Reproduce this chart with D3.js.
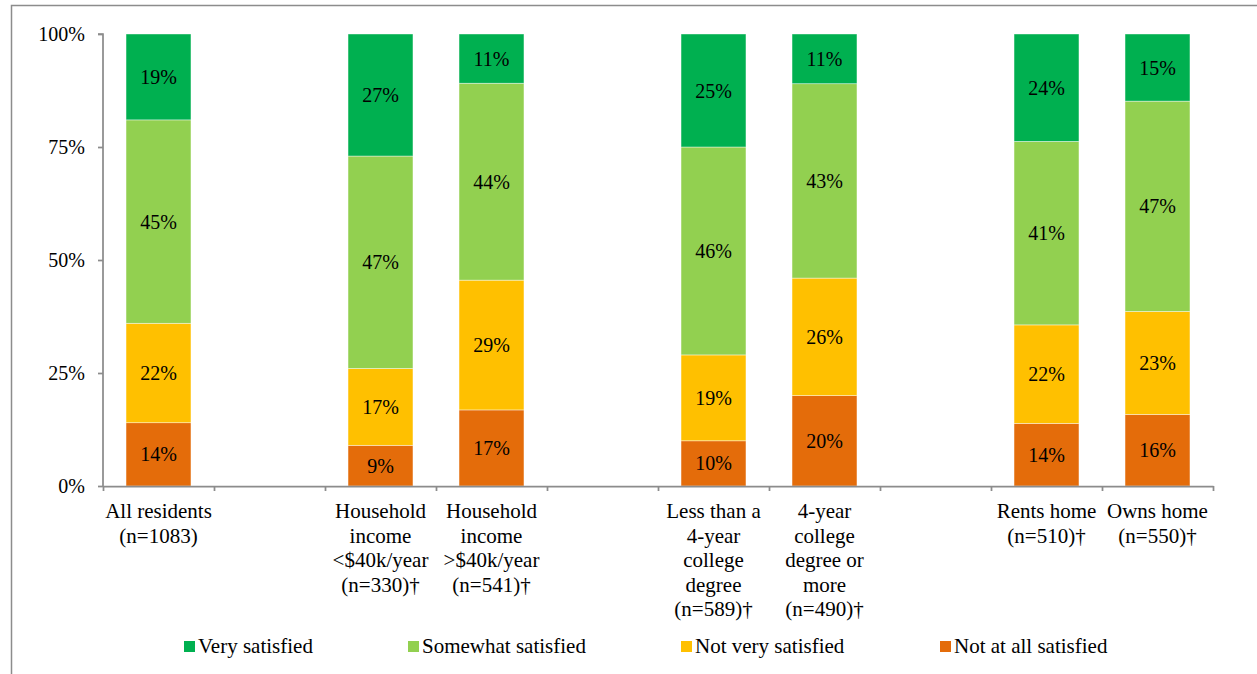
<!DOCTYPE html>
<html>
<head>
<meta charset="utf-8">
<script src="https://cdn.jsdelivr.net/npm/d3@7"></script>
<style>
  html, body { margin: 0; padding: 0; background: #fff; }
  svg { display: block; font-family: "Liberation Serif", "Times New Roman", serif; }
</style>
</head>
<body>
<svg id="chart" width="1257" height="674"></svg>
<script>
// Category slots along the x axis; null marks an empty spacer slot between groups
const slots = ["all", null, "inc_lo", "inc_hi", null, "edu_lo", "edu_hi", null, "rent", "own"];

// Wrapped label lines for each category
const categoryLabels = {
  all:    ["All residents", "(n=1083)"],
  inc_lo: ["Household", "income", "<$40k/year", "(n=330)\u2020"],
  inc_hi: ["Household", "income", ">$40k/year", "(n=541)\u2020"],
  edu_lo: ["Less than a", "4-year", "college", "degree", "(n=589)\u2020"],
  edu_hi: ["4-year", "college", "degree or", "more", "(n=490)\u2020"],
  rent:   ["Rents home", "(n=510)\u2020"],
  own:    ["Owns home", "(n=550)\u2020"]
};

// Series, bottom to top of each stack
const seriesNames = ["Not at all satisfied", "Not very satisfied", "Somewhat satisfied", "Very satisfied"];
const seriesColors = ["#E46C0A", "#FFC000", "#92D050", "#00B050"];

// Percent values per category, in the series order above
const notAtAll      = { all: 14, inc_lo: 9,  inc_hi: 17, edu_lo: 10, edu_hi: 20, rent: 14, own: 16 };
const notVery      = { all: 22, inc_lo: 17, inc_hi: 29, edu_lo: 19, edu_hi: 26, rent: 22, own: 23 };
const somewhat     = { all: 45, inc_lo: 47, inc_hi: 44, edu_lo: 46, edu_hi: 43, rent: 41, own: 47 };
const very         = { all: 19, inc_lo: 27, inc_hi: 11, edu_lo: 25, edu_hi: 11, rent: 24, own: 15 };

// Legend order (left to right)
const legendOrder = ["Very satisfied", "Somewhat satisfied", "Not very satisfied", "Not at all satisfied"];
const legendX = [184, 408, 681, 940];

const yTicks = [0, 0.25, 0.5, 0.75, 1];

const seriesValues = [notAtAll, notVery, somewhat, very];
const categories = slots.filter(s => s !== null);
const rows = categories.map(c => {
  const r = { key: c };
  seriesNames.forEach((n, i) => { r[n] = seriesValues[i][c]; });
  return r;
});

const svg = d3.select("#chart");
svg.append("rect").attr("width", 1257).attr("height", 674).attr("fill", "#fff");

// Outer frame of the chart area
svg.append("rect")
  .attr("x", 11.5).attr("y", 5.5)
  .attr("width", 1400).attr("height", 800)
  .attr("fill", "none").attr("stroke", "#8c8c8c").attr("stroke-width", 1.5);

const margin = { left: 103, right: 1257 - 1213, top: 34, bottom: 674 - 486 };
const x0 = margin.left, x1 = 1213, yTop = 34, yBot = 486;

const x = d3.scaleBand().domain(d3.range(slots.length)).range([x0, x1]).paddingInner(0.415).paddingOuter(0.2075);
const xLin = d3.scaleLinear().domain([0, slots.length]).range([x0, x1]);
const y = d3.scaleLinear().domain([0, 1]).range([yBot, yTop]);

const stack = d3.stack().keys(seriesNames).offset(d3.stackOffsetExpand);
const stacked = stack(rows);
const color = d3.scaleOrdinal().domain(seriesNames).range(seriesColors);

const slotOf = key => slots.indexOf(key);

// Bars
const layer = svg.append("g").selectAll("g")
  .data(stacked).join("g")
  .attr("fill", d => color(d.key));

layer.selectAll("rect")
  .data(d => d.map(p => ({ p, key: d.key })))
  .join("rect")
  .attr("x", d => x(slotOf(d.p.data.key)))
  .attr("width", x.bandwidth())
  .attr("y", d => y(d.p[1]))
  .attr("height", d => y(d.p[0]) - y(d.p[1]))
  .attr("stroke", "#ffffff")
  .attr("stroke-opacity", 0.6)
  .attr("stroke-width", 0.7);

// Value labels centred in each segment
layer.selectAll("text")
  .data(d => d.map(p => ({ p, key: d.key })))
  .join("text")
  .attr("x", d => x(slotOf(d.p.data.key)) + x.bandwidth() / 2)
  .attr("y", d => (y(d.p[0]) + y(d.p[1])) / 2)
  .attr("dy", "0.35em")
  .attr("text-anchor", "middle")
  .attr("fill", "#000")
  .style("font-size", "20px")
  .text(d => d.p.data[d.key] + "%");

// Y axis
const yAxis = svg.append("g")
  .attr("transform", `translate(${x0},0)`)
  .call(d3.axisLeft(y).tickValues(yTicks).tickFormat(d3.format(".0%")).tickSize(5).tickPadding(13));
yAxis.selectAll("path, line").attr("stroke", "#8c8c8c").attr("stroke-width", 1.75);
yAxis.select(".domain").attr("d", `M-5,${yTop}H0V${yBot}`);
yAxis.selectAll("text").attr("fill", "#000").style("font-size", "20px")
  .style("font-family", "'Liberation Serif', 'Times New Roman', serif");

// X axis with tick marks on slot boundaries
const xAxis = svg.append("g")
  .attr("transform", `translate(0,${yBot})`)
  .call(d3.axisBottom(xLin).tickValues(d3.range(slots.length + 1)).tickFormat("").tickSize(5).tickSizeOuter(0));
xAxis.selectAll("path, line").attr("stroke", "#8c8c8c").attr("stroke-width", 1.75);

// Category labels
const catG = svg.append("g");
categories.forEach(c => {
  const t = catG.append("text")
    .attr("x", x(slotOf(c)) + x.bandwidth() / 2)
    .attr("y", 518)
    .attr("text-anchor", "middle")
    .attr("fill", "#000")
    .style("font-size", "21px");
  categoryLabels[c].forEach((line, i) => {
    t.append("tspan")
      .attr("x", x(slotOf(c)) + x.bandwidth() / 2)
      .attr("y", 518 + i * 24.5)
      .text(line);
  });
});

// Legend
const legend = svg.append("g");
legendOrder.forEach((name, i) => {
  const g = legend.append("g").attr("transform", `translate(${legendX[i]},646)`);
  g.append("rect").attr("x", 0).attr("y", -5).attr("width", 11).attr("height", 11).attr("fill", color(name));
  g.append("text").attr("x", 14).attr("y", 0).attr("dy", "0.35em")
    .attr("fill", "#000").style("font-size", "21px").text(name);
});
</script>
</body>
</html>
